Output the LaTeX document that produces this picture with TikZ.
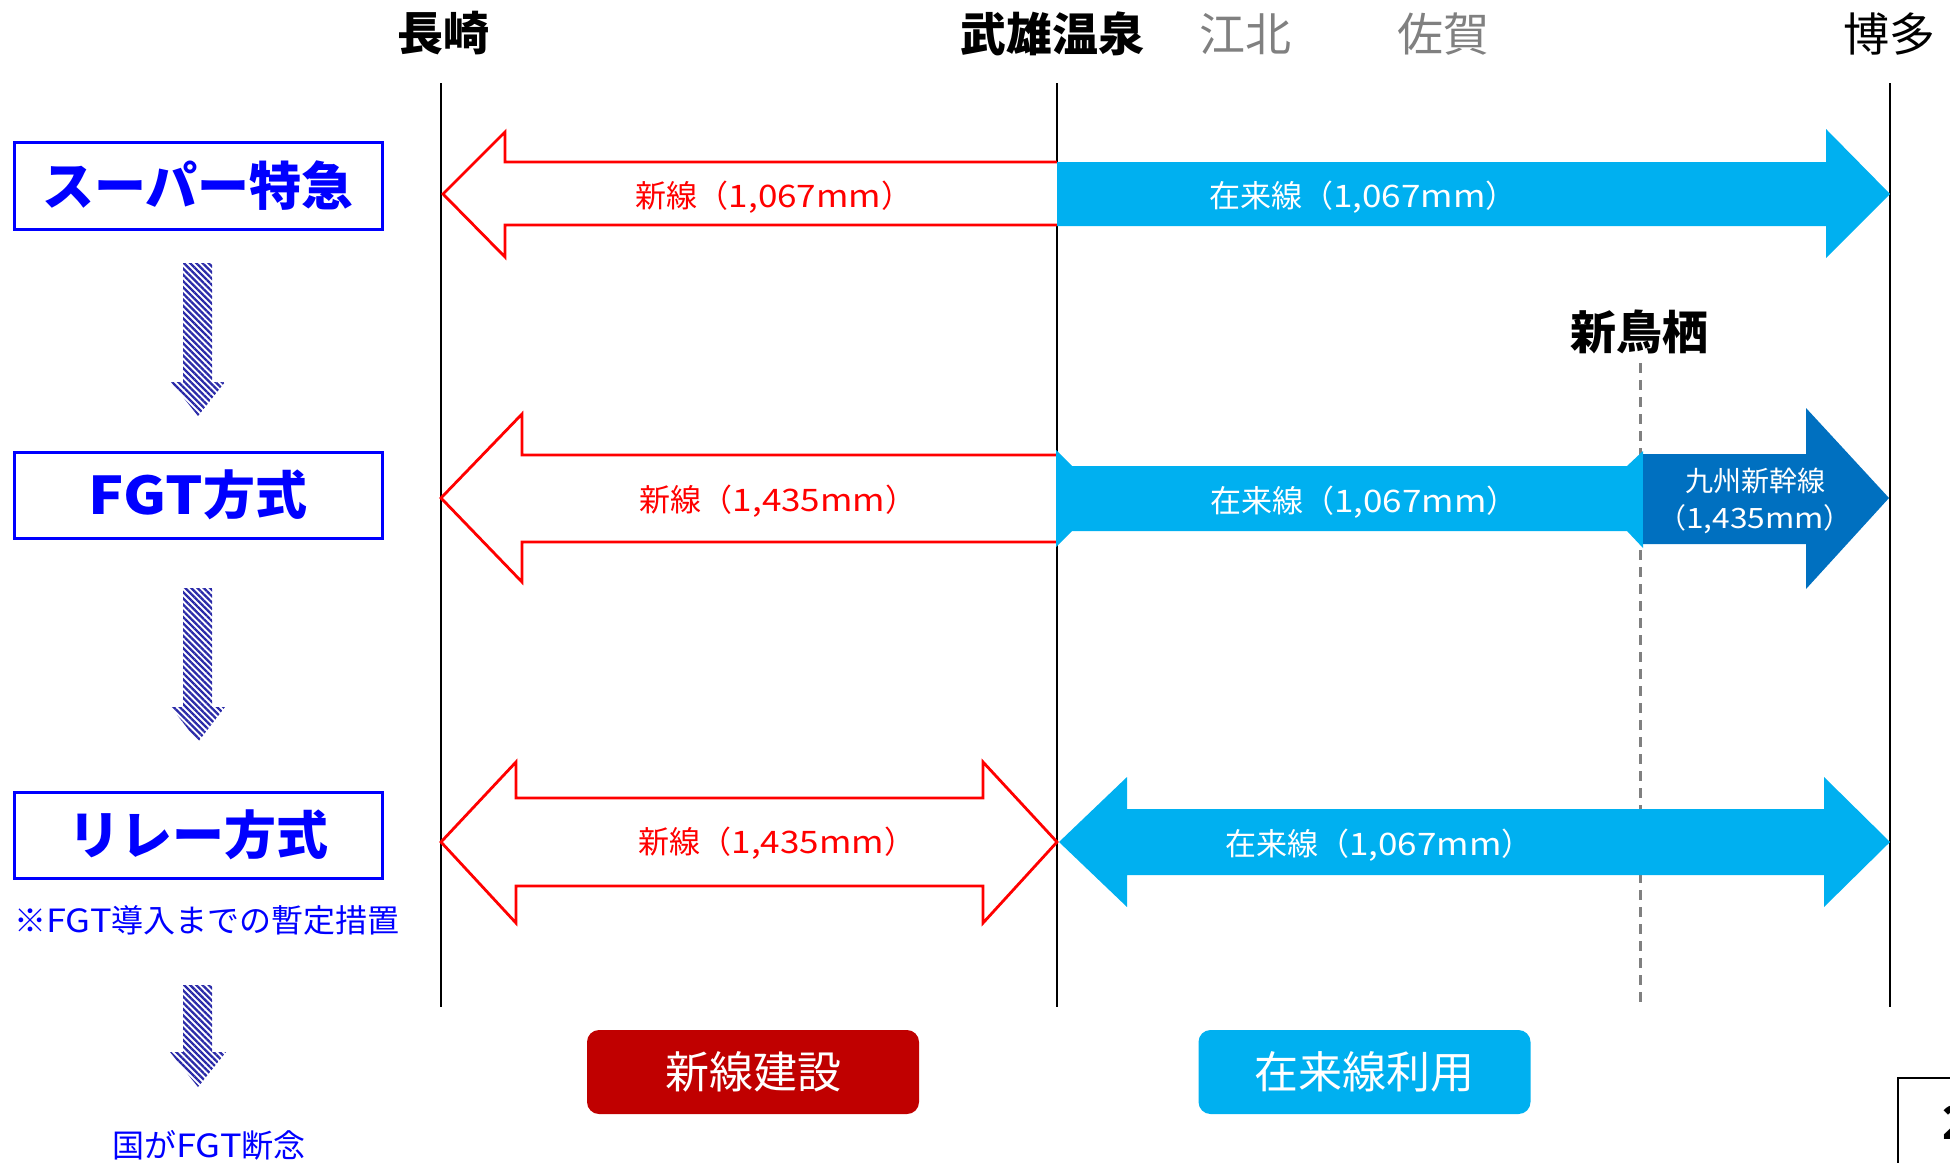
\documentclass[tikz,border=0pt]{standalone}
\usepackage{fontspec}
\setmainfont{Noto Sans CJK JP}
\newfontfamily\latw{Noto Sans CJK JP}[FakeStretch=1.13]
\usetikzlibrary{patterns.meta}
\definecolor{lblue}{HTML}{00B0F0}
\definecolor{dblue}{HTML}{0070C0}
\definecolor{dred}{HTML}{C00000}
\definecolor{hatchc}{HTML}{2A2AA8}
\definecolor{grayc}{HTML}{808080}
\definecolor{pureblue}{HTML}{0000FF}
\newcommand{\lw}[1]{{\latw #1}}
\begin{document}
\begin{tikzpicture}[x=1pt,y=-1pt,
  stbold/.style={inner sep=0pt, font=\fontsize{46}{46}\selectfont\bfseries, text=black},
  stnorm/.style={inner sep=0pt, font=\fontsize{46}{46}\selectfont, text=black},
  stgray/.style={inner sep=0pt, font=\fontsize{46}{46}\selectfont, text=grayc},
  lbox/.style={draw=pureblue, line width=3pt, minimum width=368pt, inner sep=0pt,
    font=\fontsize{52}{52}\selectfont\bfseries, text=pureblue},
  note/.style={inner sep=0pt, font=\fontsize{32}{32}\selectfont, text=pureblue},
  albl/.style={inner sep=0pt, font=\fontsize{31}{31}\selectfont},
  albs/.style={inner sep=0pt, font=\fontsize{28}{37}\selectfont, align=center},
  btn/.style={rounded corners=12pt, minimum width=332pt, minimum height=84pt, inner sep=0pt,
    font=\fontsize{44}{44}\selectfont, text=white},
  stline/.style={line width=2.5pt, black},
  redarrow/.style={draw=red, line width=2.8pt, line join=miter, fill=white},
  hatcharrow/.style={pattern={Lines[angle=-45,distance=4.4pt,line width=2.3pt]}, pattern color=hatchc}
]
\useasboundingbox (0,0) rectangle (1950,1162);
\clip (0,0) rectangle (1950,1162);

% station vertical lines
\coordinate (l1t) at (441,83);  \coordinate (l1b) at (441,1007);
\coordinate (l2t) at (1057,83); \coordinate (l2b) at (1057,1007);
\coordinate (l3t) at (1890,83); \coordinate (l3b) at (1890,1007);
\coordinate (dt) at (1640,363); \coordinate (db) at (1640,1007);
\draw[stline] (l1t) -- (l1b);
\draw[stline] (l2t) -- (l2b);
\draw[stline] (l3t) -- (l3b);
\draw[grayc, line width=3pt, dash pattern=on 10pt off 7pt] (dt) -- (db);

% station names
\node[stbold] (nagasaki) at (443,33) {長崎};
\node[stbold] (takeo) at (1052,34) {武雄温泉};
\node[stgray] (kohoku) at (1245,34) {江北};
\node[stgray] (saga) at (1443,34) {佐賀};
\node[stnorm] (hakata) at (1889,34) {博多};
\node[stbold] (shintosu) at (1639,332) {新鳥栖};

% row 1
\draw[redarrow] (1057,162) -- (505,162) -- (505,132) -- (443,194) -- (505,257) -- (505,225) -- (1057,225);
\fill[lblue] (1057,162) -- (1826,162) -- (1826,129) -- (1890,194) -- (1826,258) -- (1826,226) -- (1057,226) -- cycle;
\node[albl, text=red] (t1) at (774,197) {新線（\lw{1,067mm}）};
\node[albl, text=white] (t2) at (1363,197) {在来線（\lw{1,067mm}）};

% row 2
\draw[redarrow] (1057,455) -- (522,455) -- (522,414) -- (441,498) -- (522,582) -- (522,542) -- (1057,542);
\fill[lblue] (1056,450) -- (1072,466) -- (1627,466) -- (1643,451) -- (1643,548) -- (1627,531) -- (1072,531) -- (1056,547) -- cycle;
\fill[dblue] (1643,454) -- (1806,454) -- (1806,408) -- (1889,498) -- (1806,589) -- (1806,544) -- (1643,544) -- cycle;
\node[albl, text=red] (t3) at (778,501) {新線（\lw{1,435mm}）};
\node[albl, text=white] (t4) at (1364,502) {在来線（\lw{1,067mm}）};
\node[albs, text=white] (t5) at (1755,501) {九州新幹線\\（\lw{1,435mm}）};

% row 3
\draw[redarrow] (441,842) -- (516,762) -- (516,798) -- (983,798) -- (983,762) -- (1057,842) -- (983,923) -- (983,886) -- (516,886) -- (516,923) -- cycle;
\fill[lblue] (1059,842) -- (1127,777) -- (1127,809) -- (1824,809) -- (1824,777) -- (1890,842) -- (1824,907) -- (1824,875) -- (1127,875) -- (1127,907) -- cycle;
\node[albl, text=red] (t6) at (777,843) {新線（\lw{1,435mm}）};
\node[albl, text=white] (t7) at (1379,845) {在来線（\lw{1,067mm}）};

% left column
\node[lbox, minimum height=87pt] (sx) at (198,185.5) {スーパー特急};
\node[lbox, minimum height=86pt] (fgt) at (198,495) {\lw{FGT}方式};
\node[lbox, minimum height=86pt] (relay) at (198,835) {リレー方式};
\node[note] (n1) at (207,920) {※\lw{FGT}導入までの暫定措置};
\node[note] (n2) at (209,1145) {国が\lw{FGT}断念};

\fill[hatcharrow] (183,263) -- (212,263) -- (212,382) -- (225,382) -- (198,416) -- (171,382) -- (183,382) -- cycle;
\fill[hatcharrow] (183,588) -- (212,588) -- (212,707) -- (225,707) -- (198,742) -- (171,707) -- (183,707) -- cycle;
\fill[hatcharrow] (183,985) -- (212,985) -- (212,1052) -- (226,1052) -- (198,1087) -- (170,1052) -- (183,1052) -- cycle;

% buttons
\node[btn, fill=dred] (b1) at (753,1072) {新線建設};
\node[btn, fill=lblue] (b2) at (1364.5,1072) {在来線利用};

% page number box (cut off at the edge, as in the reference)
\draw[line width=2pt] (1898,1200) -- (1898,1078) -- (2000,1078);
\node[stbold, anchor=west] (pg) at (1942,1122) {2};
\end{tikzpicture}
\end{document}
